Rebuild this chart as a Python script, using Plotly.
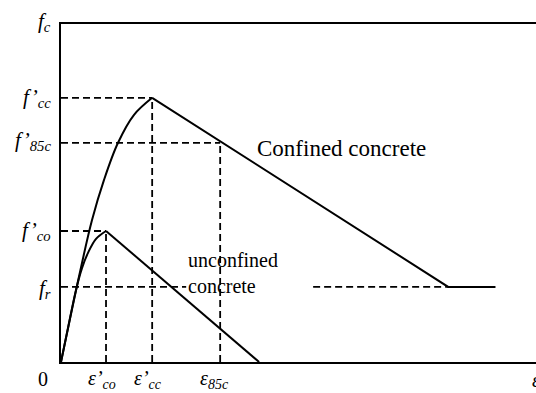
import plotly.graph_objects as go

# Stress-strain model of confined vs. unconfined concrete
# strain in per-mille, stress in MPa
eps_co, f_co = 2.0, 30.0        # unconfined peak
eps_cc, f_cc = 4.05, 60.5       # confined peak
eps_85c, f_85c = 7.07, 50.2     # 85 % post-peak point
f_r = 17.2                      # residual stress
eps_r = 17.2                    # confined branch reaches f_r
eps_end = 19.3                  # end of residual plateau
eps_u = 8.8                     # unconfined branch reaches zero
x_max, y_max = 21.1, 77.4

conf_rise_eps = [0, 0.844, 1.378, 1.911, 2.533, 3.244, eps_cc]
conf_rise_f = [0, 20.6, 32.5, 41.7, 50.2, 56.6, f_cc]
unconf_rise_eps = [0, 0.311, 0.667, 0.933, 1.2, 1.556, eps_co]
unconf_rise_f = [0, 7.79, 16.5, 21.5, 25.0, 28.2, f_co]

# f_r guide line is interrupted by the "unconfined concrete" label
fr_gap = (5.56, 11.2)

FONT = "Liberation Serif"
black = "#000000"

fig = go.Figure()

def dashed(xs, ys):
    fig.add_trace(go.Scatter(x=xs, y=ys, mode="lines",
                             line=dict(color=black, width=1.8, dash="7px,4px"),
                             hoverinfo="skip", showlegend=False))

def solid(xs, ys, shape="linear"):
    fig.add_trace(go.Scatter(x=xs, y=ys, mode="lines",
                             line=dict(color=black, width=2, shape=shape, smoothing=1.0),
                             hoverinfo="skip", showlegend=False))

# guide lines
dashed([0, eps_cc], [f_cc, f_cc])
dashed([0, eps_85c], [f_85c, f_85c])
dashed([0, eps_co], [f_co, f_co])
dashed([0, fr_gap[0]], [f_r, f_r])
dashed([fr_gap[1], eps_r], [f_r, f_r])
dashed([eps_co, eps_co], [0, f_co])
dashed([eps_cc, eps_cc], [0, f_cc])
dashed([eps_85c, eps_85c], [0, f_85c])

# curves
solid(conf_rise_eps, conf_rise_f, "spline")
solid([eps_cc, eps_r, eps_end], [f_cc, f_r, f_r])
solid(unconf_rise_eps, unconf_rise_f, "spline")
solid([eps_co, eps_u], [f_co, 0])

ann = []

def ylab(text, y, yshift=0):
    ann.append(dict(x=0, xref="paper", y=y, yref="y", text=text, showarrow=False,
                    xanchor="right", yanchor="middle", xshift=-8, yshift=yshift,
                    font=dict(family=FONT, size=21, color=black)))

def xlab(text, x, xshift=0):
    ann.append(dict(x=x, xref="x", y=0, yref="y", text=text, showarrow=False,
                    xanchor="center", yanchor="top", yshift=-3, xshift=xshift,
                    font=dict(family=FONT, size=20, color=black)))

ylab("<i>f<sub>c</sub></i>", y_max, yshift=2)
ylab("<i>f’<sub>cc</sub></i>", f_cc)
ylab("<i>f’<sub>85c</sub></i>", f_85c, yshift=2)
ylab("<i>f’<sub>co</sub></i>", f_co)
ylab("<i>f<sub>r</sub></i>", f_r, yshift=-2)

xlab("<i>ε’<sub>co</sub></i>", eps_co, xshift=-4)
xlab("<i>ε’<sub>cc</sub></i>", eps_cc, xshift=-4)
xlab("<i>ε<sub>85c</sub></i>", eps_85c, xshift=-6)

ann.append(dict(x=0, xref="paper", y=0, yref="y", text="0", showarrow=False,
                xanchor="center", yanchor="top", xshift=-18, yshift=-4,
                font=dict(family=FONT, size=20, color=black)))
ann.append(dict(x=1, xref="paper", y=0, yref="y", text="<i>ε</i>", showarrow=False,
                xanchor="left", yanchor="top", xshift=-6, yshift=-5,
                font=dict(family=FONT, size=20, color=black)))

ann.append(dict(x=8.6, xref="x", y=49.0, yref="y", text="Confined concrete",
                showarrow=False, xanchor="left", yanchor="middle",
                font=dict(family=FONT, size=23, color=black)))
ann.append(dict(x=fr_gap[0], xref="x", y=20.4, yref="y", text="unconfined<br>concrete",
                showarrow=False, xanchor="left", yanchor="middle", align="left",
                font=dict(family=FONT, size=20, color=black)))

fig.update_layout(
    width=536, height=393,
    margin=dict(l=61, r=0, t=24, b=31),
    paper_bgcolor="white", plot_bgcolor="white",
    annotations=ann,
    xaxis=dict(range=[0, x_max], showgrid=False, zeroline=False, showticklabels=False,
               ticks="", showline=True, linecolor=black, linewidth=2, mirror=True,
               fixedrange=True),
    yaxis=dict(range=[0, y_max], showgrid=False, zeroline=False, showticklabels=False,
               ticks="", showline=True, linecolor=black, linewidth=2, mirror=False,
               fixedrange=True),
)

fig.write_html("out.html", config={"displayModeBar": False})
